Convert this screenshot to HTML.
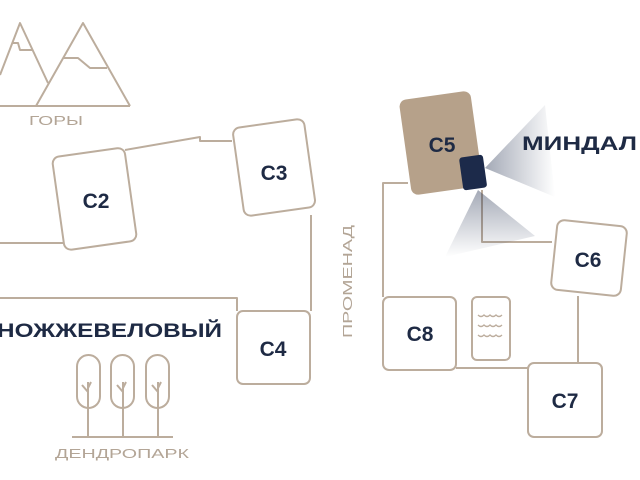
<!DOCTYPE html>
<html><head><meta charset="utf-8"><style>
html,body{margin:0;padding:0;background:#fff;}
svg{display:block;}
text{font-family:"Liberation Sans",sans-serif;}
</style></head><body>
<svg width="640" height="480" viewBox="0 0 640 480" xmlns="http://www.w3.org/2000/svg">
<defs>
<linearGradient id="g1" x1="0" y1="0" x2="1" y2="0"><stop offset="0" stop-color="#1c2a4a" stop-opacity="0.4"/><stop offset="1" stop-color="#1c2a4a" stop-opacity="0"/></linearGradient>
<linearGradient id="g2" x1="0" y1="0" x2="0" y2="1"><stop offset="0" stop-color="#1c2a4a" stop-opacity="0.4"/><stop offset="1" stop-color="#1c2a4a" stop-opacity="0"/></linearGradient>
</defs>
<g fill="none" stroke="#bcad9d" stroke-width="2" stroke-linejoin="round">
<path d="M0,106 L130,106 M0,75 L20,23 L48,83 M36,106 L83,23 L130,106"/>
<path d="M13,43 L18,43 L20,50 L32,50 M63,58 L78,58 L90,68 L107,68"/>
<path d="M0,243 L63,243 M125,150 L200,137 L200,141 L232,141 M311,215 L311,311 M0,298 L237,298 L237,311"/>
<path d="M408,183 L383,183 L383,297 M482,190 L482,242 L552,242 M578,296 L578,363 M456,368 L528,368"/>
<rect x="58" y="152" width="73" height="94" rx="7" transform="rotate(-8 94 199)"/>
<rect x="238" y="123" width="72" height="89" rx="7" transform="rotate(-8 274 167)"/>
<rect x="237" y="311" width="73" height="73" rx="6"/>
<rect x="554" y="223" width="70" height="70" rx="7" transform="rotate(6 589 258)"/>
<rect x="383" y="297" width="73" height="73" rx="6"/>
<rect x="472" y="297" width="38" height="63" rx="5"/>
<rect x="528" y="363" width="74" height="74" rx="6"/>
<rect x="77" y="355" width="23" height="53" rx="11.5"/>
<rect x="111" y="355" width="23" height="53" rx="11.5"/>
<rect x="146" y="355" width="23" height="53" rx="11.5"/>
<path d="M88,382 L88,437 M88,392 L82,385 M88,388 L91,382 M123,382 L123,437 M123,392 L117,385 M123,388 L126,382 M158,382 L158,437 M158,392 L152,385 M158,388 L161,382 M72,437 L173,437"/>
</g>
<g fill="none" stroke="#bcad9d" stroke-width="1.3">
<path d="M478,315 q3,3 6,0 q3,3 6,0 q3,3 6,0 q3,3 6,0 M478,325 q3,3 6,0 q3,3 6,0 q3,3 6,0 q3,3 6,0 M478,335 q3,3 6,0 q3,3 6,0 q3,3 6,0 q3,3 6,0"/>
</g>
<polygon points="485,168 545,105 555,197" fill="url(#g1)"/>
<polygon points="478,190 445,257 535,236" fill="url(#g2)"/>
<rect x="405" y="95" width="72" height="96" rx="7" fill="#b6a18a" transform="rotate(-8 441 143)"/>
<rect x="461" y="156" width="24" height="33" rx="3" fill="#1c2a4a" transform="rotate(-8 473 172)"/>
<g fill="#1e2a44" font-weight="bold" font-size="21" text-anchor="middle">
<text x="96" y="208">C2</text>
<text x="274" y="180">C3</text>
<text x="273" y="356">C4</text>
<text x="442" y="152">C5</text>
<text x="588" y="267">C6</text>
<text x="420" y="341">C8</text>
<text x="565" y="408">C7</text>
</g>
<g fill="#1e2a44" font-weight="bold" font-size="19">
<text x="522" y="150" textLength="115" lengthAdjust="spacingAndGlyphs">МИНДАЛ</text>
<text x="-3" y="337" textLength="225" lengthAdjust="spacingAndGlyphs">НОЖЖЕВЕЛОВЫЙ</text>
</g>
<g fill="#b3a596" font-size="13">
<text x="29" y="125" textLength="54" lengthAdjust="spacingAndGlyphs">ГОРЫ</text>
<text x="55" y="458" textLength="134" lengthAdjust="spacingAndGlyphs">ДЕНДРОПАРК</text>
<text transform="translate(352,338) rotate(-90)" textLength="113" lengthAdjust="spacingAndGlyphs">ПРОМЕНАД</text>
</g>
</svg>
</body></html>
